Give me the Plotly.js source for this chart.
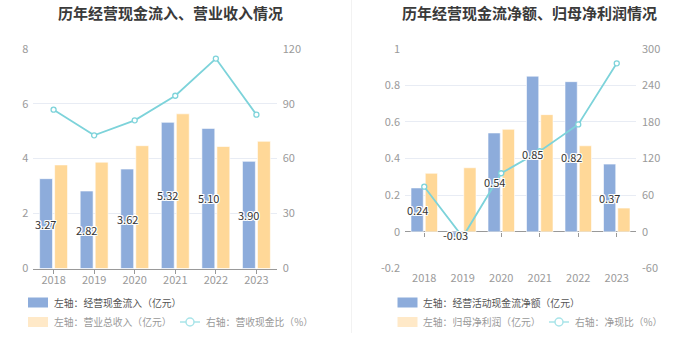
<!DOCTYPE html>
<html>
<head>
<meta charset="utf-8">
<script src="https://cdn.plot.ly/plotly-3.0.1.min.js"></script>
<style>html,body{margin:0;padding:0;background:#fff;}#chart{width:699px;height:359px;}</style>
</head>
<body>
<div id="chart"></div>
<script>
// ---- data ----
const years = ['2018', '2019', '2020', '2021', '2022', '2023'];
// left chart
const cashInflow = [3.27, 2.82, 3.62, 5.32, 5.10, 3.90];      // 经营现金流入（亿元）
const revenue = [3.77, 3.87, 4.47, 5.63, 4.44, 4.63];         // 营业总收入（亿元）
const cashRevRatio = [86.7, 72.7, 80.9, 94.3, 114.6, 84.0];   // 营收现金比（%）
// right chart
const netCashFlow = [0.24, -0.03, 0.54, 0.85, 0.82, 0.37];    // 经营活动现金流净额（亿元）
const netProfit = [0.32, 0.35, 0.56, 0.64, 0.47, 0.13];       // 归母净利润（亿元）
const netCashRatio = [74, -8.5, 96, 132, 176, 276];          // 净现比（%）

const leftTicks = [0, 2, 4, 6, 8];
const leftRightTicks = [0, 30, 60, 90, 120];
const rightTicks = [-0.2, 0, 0.2, 0.4, 0.6, 0.8, 1];
const rightTickText = ['-0.2', '0', '0.2', '0.4', '0.6', '0.8', '1'];
const rightRightTicks = [-60, 0, 60, 120, 180, 240, 300];

// ---- style ----
const W = 699, H = 359;
const px = x => x / W;
const py = y => 1 - y / H;
const FONT = '"Noto Sans CJK SC", "Noto Sans", sans-serif';
const BLUE = '#8dacdb';
const YELLOW = '#ffd898';
const CYAN = '#7dd3da';
const GRID = '#e8ecf4';
const TICKC = '#9a9a9a';
const shadow = '1px 0 0 #fff, -1px 0 0 #fff, 0 1px 0 #fff, 0 -1px 0 #fff, 1px 1px 0 #fff, -1px -1px 0 #fff, 1px -1px 0 #fff, -1px 1px 0 #fff';
const labelFont = {family: FONT, size: 11, color: '#333', shadow: shadow};
const LEGSIZE = 9.8;

const yDom = [py(268.5), py(48.7)];
const zeroPos = yDom[0] + (yDom[1] - yDom[0]) * (0.2 / 1.2);
const barLine = {color: 'rgba(255,255,255,0.6)', width: 1};

const traces = [
  {type: 'bar', x: years, y: cashInflow, xaxis: 'x', yaxis: 'y',
   marker: {color: BLUE, line: barLine}, hoverinfo: 'none', showlegend: false},
  {type: 'bar', x: years, y: revenue, xaxis: 'x', yaxis: 'y',
   marker: {color: YELLOW, line: barLine}, hoverinfo: 'none', showlegend: false},
  {type: 'scatter', mode: 'lines+markers', x: years, y: cashRevRatio, xaxis: 'x', yaxis: 'y2',
   line: {color: CYAN, width: 1.8},
   marker: {symbol: 'circle', size: 5, color: '#fff', line: {color: CYAN, width: 1.3}},
   cliponaxis: false, hoverinfo: 'none', showlegend: false},

  {type: 'bar', x: years, y: netCashFlow, xaxis: 'x2', yaxis: 'y3',
   marker: {color: BLUE, line: barLine}, hoverinfo: 'none', showlegend: false},
  {type: 'bar', x: years, y: netProfit, xaxis: 'x2', yaxis: 'y3',
   marker: {color: YELLOW, line: barLine}, hoverinfo: 'none', showlegend: false},
  {type: 'scatter', mode: 'lines+markers', x: years, y: netCashRatio, xaxis: 'x3', yaxis: 'y4',
   line: {color: CYAN, width: 1.8},
   marker: {symbol: 'circle', size: 5, color: '#fff', line: {color: CYAN, width: 1.3}},
   cliponaxis: false, hoverinfo: 'none', showlegend: false}
];

const tickFont = {family: FONT, size: 11, color: TICKC};

const annotations = [
  {text: '历年经营现金流入、营业收入情况', x: px(170), y: py(12), xref: 'paper', yref: 'paper',
   xanchor: 'center', yanchor: 'middle', showarrow: false,
   font: {family: FONT, size: 15, color: '#3a3a3a', weight: 'bold'}},
  {text: '历年经营现金流净额、归母净利润情况', x: px(529), y: py(12), xref: 'paper', yref: 'paper',
   xanchor: 'center', yanchor: 'middle', showarrow: false,
   font: {family: FONT, size: 15, color: '#3a3a3a', weight: 'bold'}}
];
// value labels at the middle of each blue bar (drawn above all traces);
// on a category axis an annotation's x is the category's serial number
years.forEach((yr, i) => {
  annotations.push({text: cashInflow[i].toFixed(2), x: i, y: cashInflow[i] / 2, xref: 'x', yref: 'y',
    xshift: -7.6, showarrow: false, xanchor: 'center', yanchor: 'middle', font: labelFont});
  annotations.push({text: netCashFlow[i].toFixed(2), x: i, y: netCashFlow[i] / 2, xref: 'x2', yref: 'y3',
    xshift: -7.2, showarrow: false, xanchor: 'center', yanchor: 'middle', font: labelFont});
});

const shapes = [
  {type: 'line', xref: 'paper', yref: 'paper', x0: px(351.5), x1: px(351.5), y0: py(0), y1: py(333),
   line: {color: '#f2f2f2', width: 1}}
];

function legendBox(x, y, color, label, textColor) {
  shapes.push({type: 'rect', xref: 'paper', yref: 'paper', x0: px(x), x1: px(x + 20), y0: py(y - 5), y1: py(y + 5),
    fillcolor: color, line: {width: 0}, layer: 'above'});
  annotations.push({text: label, x: px(x + 23.5), y: py(y), xref: 'paper', yref: 'paper',
    xanchor: 'left', yanchor: 'middle', showarrow: false,
    font: {family: FONT, size: LEGSIZE, color: textColor}});
}
function legendLine(x, y, label, textColor) {
  shapes.push({type: 'line', xref: 'paper', yref: 'paper', x0: px(x), x1: px(x + 20), y0: py(y), y1: py(y),
    line: {color: '#a9e4e9', width: 1.5}});
  shapes.push({type: 'circle', xref: 'paper', yref: 'paper', x0: px(x + 6), x1: px(x + 14), y0: py(y - 4), y1: py(y + 4),
    fillcolor: '#fff', line: {color: '#a9e4e9', width: 1.5}});
  annotations.push({text: label, x: px(x + 24), y: py(y), xref: 'paper', yref: 'paper',
    xanchor: 'left', yanchor: 'middle', showarrow: false,
    font: {family: FONT, size: LEGSIZE, color: textColor}});
}
legendBox(28, 302.5, BLUE, '左轴：经营现金流入（亿元）', '#555');
legendBox(28, 322, '#ffe9c8', '左轴：营业总收入（亿元）', '#999');
legendLine(180, 322, '右轴：营收现金比（%）', '#999');
legendBox(397.5, 302.5, BLUE, '左轴：经营活动现金流净额（亿元）', '#555');
legendBox(397.5, 322, '#ffe9c8', '左轴：归母净利润（亿元）', '#999');
legendLine(549, 322, '右轴：净现比（%）', '#999');

const layout = {
  width: W, height: H,
  margin: {l: 0, r: 0, t: 0, b: 0},
  paper_bgcolor: '#fff', plot_bgcolor: 'rgba(0,0,0,0)',
  barmode: 'group', bargap: 0.26, bargroupgap: 0.14,
  showlegend: false,
  font: {family: FONT},
  xaxis: {domain: [px(33.3), px(276.7)], anchor: 'y', type: 'category', categoryarray: years,
    range: [-0.5, years.length - 0.5],
    showline: true, linecolor: '#999', linewidth: 1, ticks: 'outside', ticklen: 4, tickcolor: '#999',
    tickfont: tickFont, ticklabelstandoff: -3, showgrid: false, zeroline: false, fixedrange: true},
  yaxis: {domain: yDom, anchor: 'x', range: [0, 8], tickvals: leftTicks, ticktext: leftTicks.map(String),
    showgrid: true, gridcolor: GRID, gridwidth: 1, zeroline: false, showline: false,
    tickfont: tickFont, ticks: '', ticklabelstandoff: 4, fixedrange: true},
  yaxis2: {overlaying: 'y', side: 'right', anchor: 'x', range: [0, 120], tickvals: leftRightTicks,
    ticktext: leftRightTicks.map(String), showgrid: false, zeroline: false, showline: false,
    tickfont: tickFont, ticks: '', ticklabelstandoff: 5, fixedrange: true},

  xaxis2: {domain: [px(405), px(636)], anchor: 'y3', type: 'category', categoryarray: years,
    range: [-0.5, years.length - 0.5],
    showline: false, ticks: '', tickfont: tickFont, ticklabelstandoff: 1, showgrid: false, zeroline: false, fixedrange: true},
  xaxis3: {overlaying: 'x2', matches: 'x2', anchor: 'free', position: zeroPos, type: 'category',
    categoryarray: years, showline: false, ticks: 'outside', ticklen: 4, tickcolor: '#999',
    showticklabels: false, showgrid: false, zeroline: false, fixedrange: true},
  yaxis3: {domain: yDom, anchor: 'x2', range: [-0.2, 1], tickvals: rightTicks, ticktext: rightTickText,
    showgrid: true, gridcolor: GRID, gridwidth: 1, zeroline: true, zerolinecolor: '#999', zerolinewidth: 1,
    showline: false, tickfont: tickFont, ticks: '', ticklabelstandoff: 4, fixedrange: true},
  yaxis4: {overlaying: 'y3', side: 'right', anchor: 'x2', range: [-60, 300], tickvals: rightRightTicks,
    ticktext: rightRightTicks.map(String), showgrid: false, zeroline: false, showline: false,
    tickfont: tickFont, ticks: '', ticklabelstandoff: 5, fixedrange: true},
  annotations: annotations,
  shapes: shapes
};

Plotly.newPlot('chart', traces, layout, {staticPlot: true, displayModeBar: false});
</script>
</body>
</html>
